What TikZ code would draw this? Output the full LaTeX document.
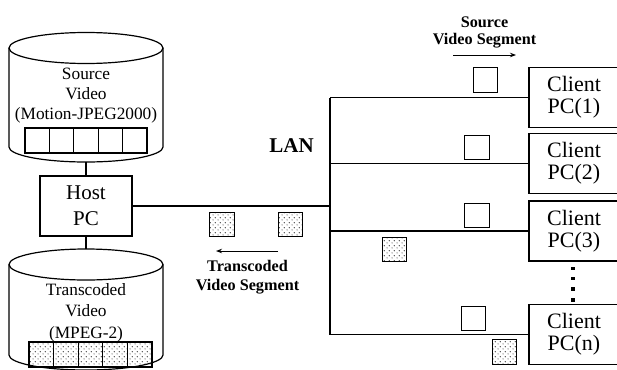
\documentclass[tikz,border=0pt]{standalone}
\usepackage{fontspec}
\setmainfont{Liberation Serif}
\usetikzlibrary{arrows.meta,patterns.meta}
\tikzdeclarepattern{
  name=sdots,
  type=uncolored,
  bounding box={(0pt,0pt) and (4.6pt,4.6pt)},
  tile size={(4.6pt,4.6pt)},
  code={\fill (1.15pt,1.15pt) circle (0.6pt); \fill (3.45pt,3.45pt) circle (0.6pt);}
}
\begin{document}
\begin{tikzpicture}[x=1pt,y=-1pt,line width=1.2pt,
  pcbox/.style={draw,rectangle,minimum width=92pt,minimum height=60pt,inner sep=0pt,align=center,
    font=\fontsize{21pt}{26pt}\selectfont},
  clientbox/.style={draw,rectangle,minimum width=90pt,minimum height=60pt,inner sep=0pt,align=center,
    font=\fontsize{22pt}{22pt}\selectfont},
  pkt/.style={draw,rectangle,minimum width=24.5pt,minimum height=24.5pt,inner sep=0pt},
  tpkt/.style={pkt,pattern={sdots},pattern color=black!85},
  dbtext/.style={align=center,font=\fontsize{17.3pt}{20pt}\selectfont,inner sep=0pt},
  blabel/.style={align=center,font=\bfseries\fontsize{16.2pt}{17.5pt}\selectfont,inner sep=0pt},
  flow/.style={-{Stealth[length=6pt,width=4.5pt]},line width=1pt},
  dotmark/.style={fill,minimum size=3.2pt,inner sep=0pt,rectangle}
]
\useasboundingbox (0,0) rectangle (617,369);
\clip (0,0) rectangle (617,369);

% --- source video cylinder
\draw (9,48) -- (9,147) arc[start angle=180,end angle=360,x radius=77pt,y radius=15pt] -- (163,48);
\draw (86,48) ellipse[x radius=77pt,y radius=15.5pt];
\coordinate (srcbot) at (86,162);
\node[dbtext,anchor=base] (srclbl) at (86,119) {Source\\Video\\(Motion-JPEG2000)};
\foreach \i in {0,...,4}{
  \node[pkt,minimum width=24.4pt,minimum height=25pt] (sq\i) at ({37.2+24.4*\i},140.5) {};
}

% --- host PC
\node[pcbox] (host) at (86,206) {Host\\PC};

% --- transcoded video cylinder
\draw (9,264.5) -- (9,355) arc[start angle=180,end angle=360,x radius=77pt,y radius=15pt] -- (163,264.5);
\draw (86,264.5) ellipse[x radius=77pt,y radius=15.5pt];
\coordinate (trtop) at (86,249);
\node[dbtext,anchor=base,font=\fontsize{17.3pt}{21.5pt}\selectfont] (trlbl) at (86,338) {Transcoded\\Video\\(MPEG-2)};
\foreach \i in {0,...,4}{
  \node[tpkt,minimum width=24.6pt,minimum height=25pt] (tq\i) at ({41.3+24.6*\i},354.5) {};
}

\draw (srcbot) -- (host.north);
\draw (host.south) -- (trtop);

% --- LAN
\node[font=\bfseries\fontsize{21pt}{21pt}\selectfont,inner sep=0pt] (lan) at (291.5,145.5) {LAN};
\coordinate (lan1) at (330,97.5);
\coordinate (lan2) at (330,163.5);
\coordinate (lanh) at (330,206);
\coordinate (lan3) at (330,231);
\coordinate (lann) at (330,334.5);

\node[clientbox] (c1) at (574,97.5) {Client\\PC(1)};
\node[clientbox] (c2) at (574,163.5) {Client\\PC(2)};
\node[clientbox] (c3) at (574,231) {Client\\PC(3)};
\node[clientbox] (cn) at (574,334.5) {Client\\PC(n)};

\draw (lan1) -- (lann);
\draw (host.east) -- (lanh);
\draw (lan1) -- (c1.west);
\draw (lan2) -- (c2.west);
\draw (lan3) -- (c3.west);
\draw (lann) -- (cn.west);

% dots between client 3 and n
\foreach \y [count=\k] in {268.5,278.5,289,300}{
  \node[dotmark] (d\k) at (573,\y) {};
}

% --- packets
\node[pkt] (p1) at (485.5,80) {};
\node[pkt] (p2) at (477,147.5) {};
\node[pkt] (p3) at (477,215.5) {};
\node[pkt] (pn) at (473.5,318.5) {};
\node[tpkt] (t1) at (222,224.5) {};
\node[tpkt] (t2) at (290.5,224.5) {};
\node[tpkt] (t3) at (394.5,249.5) {};
\node[tpkt] (tn) at (504.5,352) {};

% --- labels and arrows
\node[blabel,anchor=base] (srcseg) at (484.5,45) {Source\\Video Segment};
\coordinate (sa1) at (453,55);
\coordinate (sa2) at (516,55);
\draw[flow] (sa1) -- (sa2);

\coordinate (ta1) at (278,251);
\coordinate (ta2) at (216,251);
\draw[flow] (ta1) -- (ta2);
\node[blabel,anchor=base,font=\bfseries\fontsize{16.2pt}{19.5pt}\selectfont] (trseg) at (247.5,290.5) {Transcoded\\Video Segment};
\end{tikzpicture}
\end{document}
